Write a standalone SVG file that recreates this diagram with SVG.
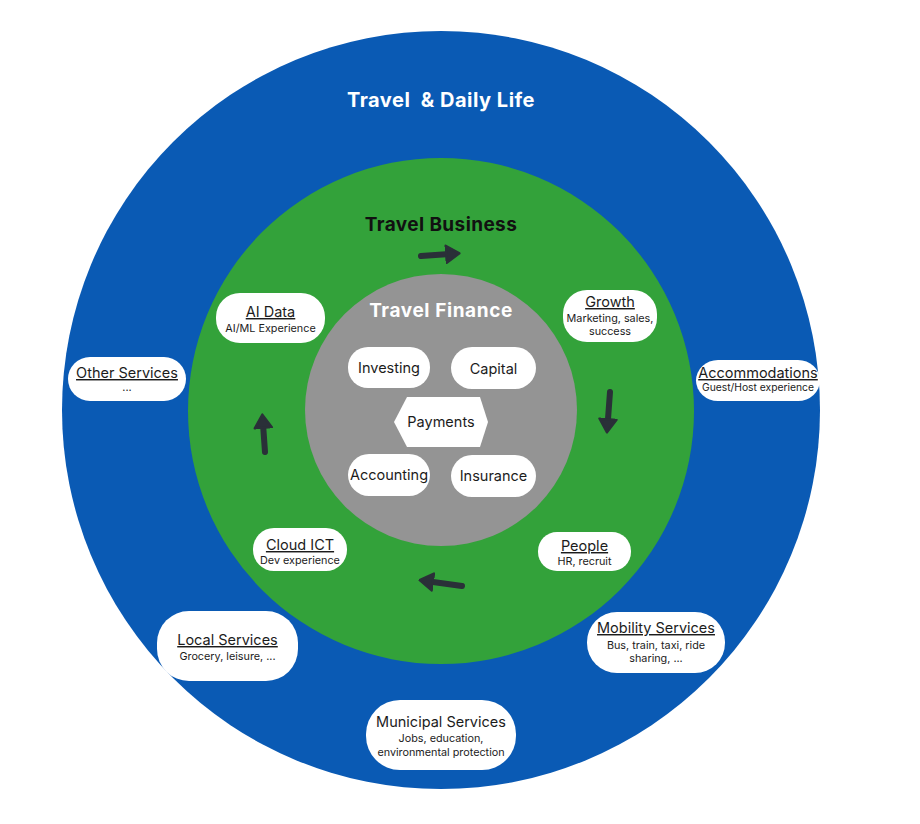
<svg xmlns="http://www.w3.org/2000/svg" width="920" height="824" viewBox="0 0 920 824">
<style>
text{font-family:Inter,"Noto Sans","Liberation Sans",sans-serif;fill:#1c1c1c;text-anchor:middle}
.box{fill:#ffffff}
.t{font-size:14.5px;text-decoration:underline}
.tn{font-size:14.5px}
.s{font-size:10.8px}
.fin{font-size:14.5px}
.h{font-weight:700}
.arr{stroke:#2a3038;stroke-width:6;stroke-linecap:round;fill:none}
</style>
<defs>
<marker id="ah" viewBox="0 0 8 10" refX="0.5" refY="5" markerWidth="2.6" markerHeight="3.5" orient="auto" markerUnits="strokeWidth">
<path d="M0.6,0.6 L7.4,5 L0.6,9.4 Z" fill="#2a3038" stroke="#2a3038" stroke-width="1.2" stroke-linejoin="round"/>
</marker>
</defs>
<rect width="920" height="824" fill="#ffffff"/>
<g id="rings">
<circle cx="441" cy="410" r="379" fill="#0a5ab4"/>
<circle cx="441" cy="411" r="253" fill="#33a23a"/>
<circle cx="441" cy="410" r="136" fill="#949494"/>
</g>
<g id="labels">
<text x="441" y="107" class="h" style="font-size:20px;letter-spacing:0.5px;fill:#ffffff;white-space:pre">Travel  &amp; Daily Life</text>
<text x="441" y="231" class="h" style="font-size:19px;letter-spacing:0.4px;fill:#111111">Travel Business</text>
<text x="441" y="317" class="h" style="font-size:19px;letter-spacing:0.6px;fill:#ffffff">Travel Finance</text>
</g>
<g id="connectors">
<line class="arr" x1="421" y1="256" x2="446" y2="254.3" marker-end="url(#ah)"/>
<line class="arr" x1="610" y1="392" x2="608" y2="419" marker-end="url(#ah)"/>
<line class="arr" x1="462" y1="586" x2="433" y2="582" marker-end="url(#ah)"/>
<line class="arr" x1="265" y1="452" x2="263.3" y2="428" marker-end="url(#ah)"/>
</g>
<g id="node-ai-data">
<rect class="box" x="216" y="293" width="109" height="50" rx="24"/>
<text x="270.5" y="317" class="t">AI Data</text>
<text x="270.5" y="332" class="s">AI/ML Experience</text>
</g>
<g id="node-growth">
<rect class="box" x="563" y="290" width="94" height="52" rx="24"/>
<text x="610" y="307" class="t">Growth</text>
<text x="610" y="322" class="s">Marketing, sales,</text>
<text x="610" y="335" class="s">success</text>
</g>
<g id="node-accommodations">
<rect class="box" x="696" y="360" width="124" height="41" rx="22"/>
<text x="758" y="378" class="t">Accommodations</text>
<text x="758" y="391" class="s" style="font-size:10.3px">Guest/Host experience</text>
</g>
<g id="node-other-services">
<rect class="box" x="68" y="357" width="118" height="44" rx="22"/>
<text x="127" y="378" class="t">Other Services</text>
<text x="127" y="391" class="s">...</text>
</g>
<g id="node-investing">
<rect class="box" x="348" y="347" width="82" height="41" rx="20"/>
<text x="389" y="373" class="fin">Investing</text>
</g>
<g id="node-capital">
<rect class="box" x="451" y="347" width="85" height="42" rx="21"/>
<text x="493.5" y="374" class="fin">Capital</text>
</g>
<g id="node-payments">
<polygon class="box" points="394,422 407,397 480,397 488,422 480,447 407,447"/>
<text x="441" y="427" class="fin">Payments</text>
</g>
<g id="node-accounting">
<rect class="box" x="348" y="454" width="82" height="42" rx="21"/>
<text x="389" y="480" class="fin">Accounting</text>
</g>
<g id="node-insurance">
<rect class="box" x="451" y="455" width="85" height="42" rx="21"/>
<text x="493.5" y="481" class="fin">Insurance</text>
</g>
<g id="node-cloud-ict">
<rect class="box" x="253" y="528" width="94" height="43" rx="21"/>
<text x="300" y="550" class="t">Cloud ICT</text>
<text x="300" y="564" class="s">Dev experience</text>
</g>
<g id="node-people">
<rect class="box" x="538" y="532" width="93" height="39" rx="19"/>
<text x="584.5" y="551" class="t">People</text>
<text x="584.5" y="565" class="s">HR, recruit</text>
</g>
<g id="node-local-services">
<rect class="box" x="157" y="611" width="141" height="70" rx="32"/>
<text x="227.5" y="645" class="t">Local Services</text>
<text x="227.5" y="660" class="s">Grocery, leisure, ...</text>
</g>
<g id="node-mobility-services">
<rect class="box" x="587" y="612" width="138" height="61" rx="30"/>
<text x="656" y="633" class="t">Mobility Services</text>
<text x="656" y="649" class="s">Bus, train, taxi, ride</text>
<text x="656" y="662" class="s">sharing, ...</text>
</g>
<g id="node-municipal-services">
<rect class="box" x="366" y="700" width="150" height="70" rx="34"/>
<text x="441" y="727" class="tn">Municipal Services</text>
<text x="441" y="742" class="s">Jobs, education,</text>
<text x="441" y="756" class="s">environmental protection</text>
</g>
</svg>
